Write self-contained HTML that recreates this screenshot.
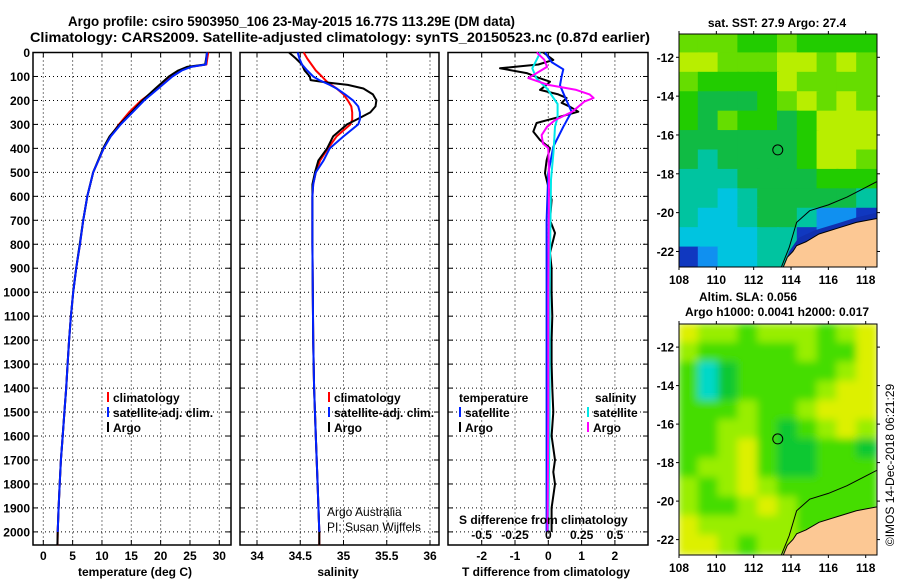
<!DOCTYPE html>
<html><head><meta charset="utf-8"><style>
html,body{margin:0;padding:0;background:#fff;}
svg{display:block;font-family:"Liberation Sans",Arial,sans-serif;}
.tk{font-size:12px;font-weight:bold;}
</style></head><body>
<svg id="fig" width="900" height="580" viewBox="0 0 900 580" xmlns="http://www.w3.org/2000/svg">
<text x="68" y="26" font-size="14" font-weight="bold" textLength="447" lengthAdjust="spacingAndGlyphs">Argo profile: csiro 5903950_106 23-May-2015 16.77S 113.29E (DM data)</text>
<text x="30" y="42" font-size="14" font-weight="bold" textLength="620" lengthAdjust="spacingAndGlyphs">Climatology: CARS2009. Satellite-adjusted climatology: synTS_20150523.nc (0.87d earlier)</text>
<g id="g"></g>
</svg>
<script>
// ---- data ----
const depthTicks=[0,100,200,300,400,500,600,700,800,900,1000,1100,1200,1300,1400,1500,1600,1700,1800,1900,2000];
const tempTicks=[0,5,10,15,20,25,30];
const salTicks=[34,34.5,35,35.5,36];
const tdTicks=[-2,-1,0,1,2];
const sdTickLabels=["-0.5","-0.25","0","0.25","0.5"];
const sdTicks=[-0.5,-0.25,0,0.25,0.5];

const tDepth=[0,50,60,75,100,150,200,250,300,350,400,500,600,700,800,900,1000,1100,1200,1300,1400,1500,1600,1700,1800,1900,2000,2056];
const tArgo=[27.9,27.6,24.5,23.0,21.4,19.1,16.9,15.0,13.0,11.3,10.2,8.5,7.5,6.8,6.2,5.6,5.1,4.7,4.4,4.15,3.9,3.6,3.3,3.0,2.8,2.6,2.45,2.4];
const tClim=[28.1,27.8,25.0,23.4,21.7,19.4,16.7,14.6,12.9,11.4,10.3,8.5,7.5,6.8,6.25,5.6,5.1,4.7,4.4,4.15,3.9,3.6,3.3,3.0,2.8,2.6,2.45,2.42];
const tSat=[27.9,27.7,25.2,23.6,22.0,19.6,17.2,15.2,13.2,11.5,10.3,8.5,7.5,6.8,6.25,5.6,5.1,4.7,4.4,4.15,3.9,3.6,3.3,3.0,2.8,2.6,2.45];

const sDepth=[0,25,50,75,100,115,125,135,150,175,200,225,250,280,300,350,400,450,500,550,600,800,1000,1200,1400,1600,1800,2000,2056];
const sArgo=[34.37,34.45,34.52,34.55,34.61,34.62,34.81,35.05,35.23,35.34,35.38,35.37,35.31,35.15,35.04,34.88,34.81,34.71,34.67,34.64,34.64,34.64,34.645,34.65,34.66,34.68,34.70,34.72,34.72];
const sClim=[34.54,34.58,34.63,34.68,34.75,34.79,34.82,34.86,34.92,35.0,35.05,35.09,35.1,35.1,35.08,34.92,34.82,34.73,34.68,34.65,34.64,34.64,34.645,34.65,34.66,34.68,34.70,34.72,34.72];
const sSat=[34.47,34.49,34.52,34.58,34.65,34.72,34.78,34.84,34.92,35.02,35.11,35.17,35.19,35.19,35.17,35.0,34.84,34.77,34.68,34.65,34.64,34.64,34.645,34.65,34.66,34.68,34.70,34.72];

const dDepth=[0,31,50,66,86,105,122,140,156,175,190,210,226,247,270,294,330,365,399,450,503,560,615,700,753,836,900,1000,1100,1200,1300,1400,1500,1600,1700,1750,1800,1900,2000];
const tDiffArgo=[-0.15,0.15,-0.3,-1.45,-0.65,-0.3,0.05,-0.1,-0.25,0.3,0.55,0.4,0.65,0.9,0.3,-0.35,-0.45,-0.25,0.05,-0.05,-0.1,0.0,0.1,0.05,0.2,0.05,0.1,0.1,0.12,0.1,0.1,0.12,0.15,0.1,0.2,0.15,0.2,0.1,0.1];
const bDepth=[0,40,70,100,137,185,247,310,393,503,700,1000,1500,2000];
const tDiffSat=[-0.1,0.1,0.45,0.4,0.35,0.5,0.7,0.45,0.15,0.0,-0.05,-0.05,-0.05,-0.05];
const mDepth=[0,30,60,107,135,156,175,190,205,247,282,310,345,380,399,503,1000,1500,2000];
const sDiffArgo=[-0.087,-0.03,-0.01,-0.15,0,0.21,0.31,0.34,0.27,0.18,0.05,-0.01,-0.05,-0.04,0,0.005,0.0,0.0,-0.005];
const cDepth=[0,66,107,150,215,270,310,410,530,1000,1500,2000];
const sDiffSat=[-0.06,-0.12,-0.09,-0.01,0.07,0.07,0.05,0.04,0.02,0.01,0.01,0.0];

const argoLon=113.29, argoLat=-16.77;
const mapXTicks=[108,110,112,114,116,118];
const mapYTicks=[-12,-14,-16,-18,-20,-22];

// ---- helpers ----
const NS="http://www.w3.org/2000/svg";
const G=document.getElementById('g');
function mk(tag,attrs,parent,txt){const e=document.createElementNS(NS,tag);for(const k in attrs)e.setAttribute(k,attrs[k]);if(txt!==undefined)e.textContent=txt;(parent||G).appendChild(e);return e;}
const TOP=52.5, BOT=545, yD=d=>TOP+d*0.2397;

function panel(name,x0,x1,xs,ticks,labels,title,titleX){
  const r=mk('rect',{x:x0,y:TOP,width:x1-x0,height:BOT-TOP,fill:'none',stroke:'#000','stroke-width':1.5});
  
  depthTicks.forEach(d=>{const y=yD(d);
    const l=mk('line',{x1:x0,x2:x1,y1:y,y2:y,stroke:'#000','stroke-width':1,'stroke-dasharray':'1 3'});
    
    mk('line',{x1:x0,x2:x0+5,y1:y,y2:y,stroke:'#000'});mk('line',{x1:x1-5,x2:x1,y1:y,y2:y,stroke:'#000'});
  });
  ticks.forEach((t,i)=>{const x=xs(t);
    const l=mk('line',{x1:x,x2:x,y1:TOP,y2:BOT,stroke:'#000','stroke-width':1,'stroke-dasharray':'1 3'});
    
    mk('line',{x1:x,x2:x,y1:BOT-5,y2:BOT,stroke:'#000'});mk('line',{x1:x,x2:x,y1:TOP,y2:TOP+5,stroke:'#000'});
    const tx=mk('text',{x:x,y:560,'text-anchor':'middle',class:'tk'},G,labels[i]);
    
  });
  const tt=mk('text',{x:titleX,y:576,'text-anchor':'middle',class:'tk'},G,title);
  
}
function line(name,xs,vals,deps,color,w){
  const pts=vals.map((v,i)=>xs(v).toFixed(1)+','+yD(deps[i]).toFixed(1)).join(' ');
  const p=mk('polyline',{points:pts,fill:'none',stroke:color,'stroke-width':w||2,'stroke-linejoin':'round'});
  
}
function legend(name,x,y,color,label){
  const l=mk('line',{x1:x,x2:x,y1:y-10,y2:y,stroke:color,'stroke-width':2});
  
  const t=mk('text',{x:x+5,y:y,class:'tk'},G,label);
  
}

// y tick labels
depthTicks.forEach(d=>{const t=mk('text',{x:30,y:yD(d)+4.5,'text-anchor':'end',class:'tk'},G,String(d));
  });

// panel 1 temperature
const xT=t=>43.3+t*5.867;
panel('temperature-panel',33,231,xT,tempTicks,tempTicks.map(String),'temperature (deg C)',135);
line('temp-climatology-line',xT,tClim,tDepth,'#ff0000');
line('temp-argo-line',xT,tArgo,tDepth,'#000');
line('temp-satellite-line',xT,tSat,tDepth,'#0022ff');
legend('legend-climatology',108,402,'#ff0000','climatology');
legend('legend-satellite-adj',108,417,'#0022ff','satellite-adj. clim.');
legend('legend-argo',108,432,'#000','Argo');

// panel 2 salinity
const xS=s=>257+(s-34)*86.5;
panel('salinity-panel',240,439,xS,salTicks,salTicks.map(String),'salinity',338);
line('sal-climatology-line',xS,sClim,sDepth,'#ff0000');
line('sal-argo-line',xS,sArgo,sDepth,'#000');
line('sal-satellite-line',xS,sSat,sDepth,'#0022ff');
legend('sal-legend-climatology',329,402,'#ff0000','climatology');
legend('sal-legend-satellite-adj',329,417,'#0022ff','satellite-adj. clim.');
legend('sal-legend-argo',329,432,'#000','Argo');
let t1=mk('text',{x:327,y:516,'font-size':12},G,'Argo Australia');
let t2=mk('text',{x:327,y:531,'font-size':12},G,'PI: Susan Wijffels');

// panel 3 differences
const xTD=v=>548.3+v*33.3, xSD=v=>548.3+v*133.3;
panel('difference-panel',448,648,xTD,tdTicks,tdTicks.map(String),'T difference from climatology',546);
line('tdiff-argo-line',xTD,tDiffArgo,dDepth,'#000');
line('tdiff-satellite-line',xTD,tDiffSat,bDepth,'#0022ff');
line('sdiff-satellite-line',xSD,sDiffSat,cDepth,'#00e8e8');
line('sdiff-argo-line',xSD,sDiffArgo,mDepth,'#ff00ff');
let h1=mk('text',{x:459,y:402,class:'tk'},G,'temperature');
let h2=mk('text',{x:595,y:402,class:'tk'},G,'salinity');
legend('legend-t-satellite',460,417,'#0022ff','satellite');
legend('legend-t-argo',460,432,'#000','Argo');
legend('legend-s-satellite',588,417,'#00e8e8','satellite');
legend('legend-s-argo',588,432,'#ff00ff','Argo');
let st=mk('text',{x:459,y:524,class:'tk'},G,'S difference from climatology');
sdTicks.forEach((v,i)=>{const t=mk('text',{x:xSD(v),y:539,'text-anchor':'middle',class:'tk'},G,sdTickLabels[i]);
  });

// ---- maps ----
const pal1={Y:'#b8ee00',L:'#66dd00',G:'#22cc00',D:'#10bb44',T:'#00c4a0',C:'#00c4e0',B:'#1090f0',N:'#1038c0'};
const grid1=["LLLGGLGGGG","YYLLLYYLYL","LGGGGYLLLL","GDDDGLYLYL","GDLGGDGYYY","DDDDDDGYYY","DTDDDDGYYL","TTTDDDDGGG","TTCTDDDDDT","TCCTDDTBBN","CCCCTTNBNN","NBCCTTTTTT"];
const pal2={Y:'#ddf000',L:'#99ee00',G:'#44dd00',D:'#11c830',C:'#00d8c8'};
const grid2=["YLLGLLLGLY","LGGGGGLGGY","GCDGGGGGLY","GCDGGGGLYY","GGGLGGLYYY","GGLLGDGLYL","GGLYGDDGGD","GLLYGDDGGG","LGLYLGGGGG","LGGLYLGGGG","YLLLLLGGGG","YYLGLLLGGG"];

function drawMap(name,top,bot,grid,pal,blur){
  const L=679,R=877,lon0=108,lat0=-10.8;
  const pxLon=18.67, pxLat=(bot-top)/12;
  const xm=lon=>L+(lon-lon0)*pxLon, ym=lat=>top+(lat0-lat)*pxLat;
  const clipId=name+'clip';
  const cp=mk('clipPath',{id:clipId});mk('rect',{x:L,y:top,width:R-L,height:bot-top},cp);
  const g=mk('g',{'clip-path':'url(#'+clipId+')'});
  
  const inner=mk('g',blur?{filter:'url(#bl)'}:{},g);
  const cw=(R-L)/10, ch=(bot-top)/12;
  grid.forEach((row,r)=>{[...row].forEach((c,k)=>{mk('rect',{x:L+k*cw-1,y:top+r*ch-1,width:cw+2,height:ch+2,fill:pal[c]},inner);});});
  const coast=[[113.5,-23],[113.8,-22.3],[114.1,-22.0],[114.3,-21.7],[114.8,-21.5],[115.5,-21.1],[116.5,-20.8],[117.5,-20.5],[118.6,-20.3],[119,-20.3],[119,-23]];
  if(!blur){const sh=[[113.5,-23],[113.9,-22.0],[114.4,-21.3],[115.3,-20.9],[116.5,-20.55],[117.5,-20.25],[118.6,-20.0],[119,-20],[119,-23]];
    mk('polygon',{points:sh.map(p=>xm(p[0])+','+ym(p[1])).join(' '),fill:'#1030b0'},g);}
  const land=mk('polygon',{points:coast.map(p=>xm(p[0])+','+ym(p[1])).join(' '),fill:'#fcc894',stroke:'#000','stroke-width':1},g);
  
  const iso=[[113.4,-23],[113.9,-21.8],[114.3,-20.5],[115.0,-19.9],[116.0,-19.6],[117.0,-19.2],[118.0,-18.7],[118.6,-18.4]];
  mk('polyline',{points:iso.map(p=>xm(p[0])+','+ym(p[1])).join(' '),fill:'none',stroke:'#000','stroke-width':1},g);
  const c=mk('circle',{cx:xm(argoLon),cy:ym(argoLat),r:5,fill:'none',stroke:'#000','stroke-width':1});
  
  mk('rect',{x:L,y:top,width:R-L,height:bot-top,fill:'none',stroke:'#000','stroke-width':1});
  mapXTicks.forEach(v=>{const x=xm(v);mk('line',{x1:x,x2:x,y1:top-3,y2:top,stroke:'#000'});mk('line',{x1:x,x2:x,y1:bot,y2:bot+3,stroke:'#000'});
    const t=mk('text',{x:x,y:bot+17,'text-anchor':'middle',class:'tk'},G,String(v));});
  mapYTicks.forEach(v=>{const y=ym(v);mk('line',{x1:L-3,x2:L,y1:y,y2:y,stroke:'#000'});mk('line',{x1:R,x2:R+3,y1:y,y2:y,stroke:'#000'});
    const t=mk('text',{x:L-5,y:y+4.5,'text-anchor':'end',class:'tk'},G,String(v));});
}
const defs=mk('defs',{});const f=mk('filter',{id:'bl',x:'-5%',y:'-5%',width:'110%',height:'110%'},defs);mk('feGaussianBlur',{stdDeviation:4},f);
drawMap('sst-map',34,267,grid1,pal1,false);
drawMap('sla-map',324,555,grid2,pal2,true);
let m1=mk('text',{x:777,y:27,'text-anchor':'middle',class:'tk'},G,'sat. SST: 27.9 Argo: 27.4');
let m2=mk('text',{x:748,y:301,'text-anchor':'middle',class:'tk'},G,'Altim. SLA: 0.056');
let m3=mk('text',{x:777,y:316,'text-anchor':'middle',class:'tk'},G,'Argo h1000: 0.0041 h2000: 0.017');
let cr=mk('text',{x:0,y:0,'font-size':12,'text-anchor':'middle',transform:'translate(894,465) rotate(-90)'},G,'©IMOS 14-Dec-2018 06:21:29');
</script>
</body></html>
